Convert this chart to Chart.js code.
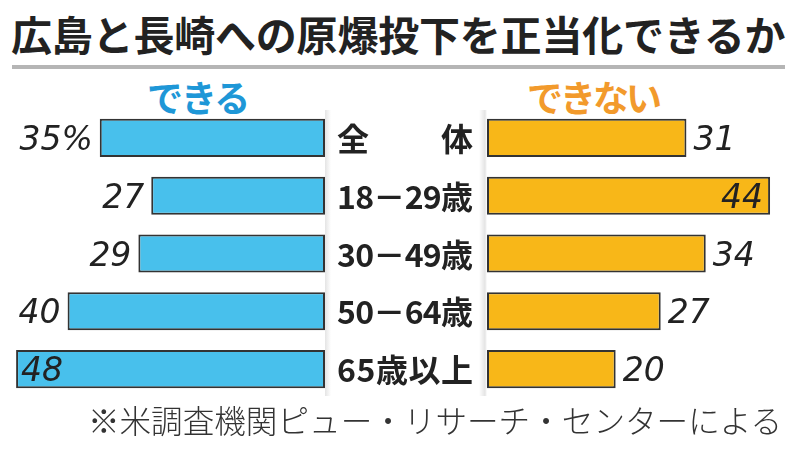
<!DOCTYPE html>
<html>
<head>
<meta charset="utf-8">
<script src="https://cdn.jsdelivr.net/npm/chart.js@4"></script>
<style>
  body { margin:0; background:#fff; }
  #wrap { position:relative; width:800px; height:453px; overflow:hidden; background:#fff; }
  #wrap canvas { position:absolute; left:0; top:0; }
  .txt { position:absolute; white-space:nowrap; font-family:"Noto Sans CJK JP", sans-serif; line-height:1; }
</style>
</head>
<body>
<div id="wrap">
  <div class="txt" style="left:11px; top:13px; font-size:41px; font-weight:700; color:#222; letter-spacing:-0.2px;">広島と長崎への原爆投下を正当化できるか</div>
  <div style="position:absolute; left:12px; top:65px; width:773px; height:4px; background:#b5b5b5;"></div>
  <div class="txt" style="left:147px; top:78px; font-size:36px; font-weight:700; color:#1e97d7; letter-spacing:-2px;">できる</div>
  <div class="txt" style="left:527px; top:78px; font-size:36px; font-weight:700; color:#f29a2c; letter-spacing:-3px;">できない</div>
  <div style="position:absolute; left:325px; top:110px; width:162px; height:286px; background:linear-gradient(to right,#e4e4e4 0px,#fff 6px,#fff 154px,#e4e4e4 160px,#fff 162px);"></div>
  <canvas id="left" width="800" height="453"></canvas>
  <canvas id="right" width="800" height="453"></canvas>
  <div class="txt" style="right:18px; top:404px; font-size:31.6px; font-weight:300; color:#333;">※米調査機関ピュー・リサーチ・センターによる</div>
</div>
<script>
// rows, top to bottom
var categories = ['全　体', '18－29歳', '30－49歳', '50－64歳', '65歳以上'];
var canValues = [35, 27, 29, 40, 48];     // できる
var cannotValues = [31, 44, 34, 27, 20];  // できない

var numFont = 'oblique 400 33px "DejaVu Sans", sans-serif';

// value labels at the end of each bar; goes inside when it would not fit
var valueLabels = {
  id: 'valueLabels',
  afterDatasetsDraw: function(chart) {
    var ctx = chart.ctx;
    var reversed = chart.options.scales.x.reverse;
    var meta = chart.getDatasetMeta(0);
    ctx.save();
    ctx.font = numFont;
    ctx.fillStyle = '#222';
    ctx.textBaseline = 'alphabetic';
    meta.data.forEach(function(bar, i) {
      var txt = String(chart.data.datasets[0].data[i]);
      if (reversed && i === 0) txt += '%';
      var w = ctx.measureText(txt).width;
      var y = bar.y + 12;
      if (reversed) {
        var x = bar.x - 7;
        if (x - w < 0) { ctx.textAlign = 'left'; ctx.fillText(txt, bar.x + 5, y); }
        else { ctx.textAlign = 'right'; ctx.fillText(txt, x, y); }
      } else {
        var x2 = bar.x + 7;
        if (x2 + w > chart.width) { ctx.textAlign = 'right'; ctx.fillText(txt, bar.x - 7, y); }
        else { ctx.textAlign = 'left'; ctx.fillText(txt, x2, y); }
      }
    });
    ctx.restore();
  }
};

// category labels in the middle column, spread to one common width
var centerLabels = {
  id: 'centerLabels',
  afterDraw: function(chart) {
    var ctx = chart.ctx;
    var yScale = chart.scales.y;
    var right = chart.chartArea.left - 14;
    var boxW = 136;
    ctx.save();
    ctx.font = '700 32px "Noto Sans CJK JP", sans-serif';
    ctx.fillStyle = '#222';
    ctx.textBaseline = 'middle';
    ctx.textAlign = 'left';
    chart.data.labels.forEach(function(lab, i) {
      var chars = Array.from(lab);
      var total = 0;
      var widths = chars.map(function(c) { var w = ctx.measureText(c).width; total += w; return w; });
      var gap = chars.length > 1 ? (boxW - total) / (chars.length - 1) : 0;
      var x = right - boxW;
      var y = yScale.getPixelForValue(i) + 1;
      chars.forEach(function(c, k) {
        ctx.fillText(c, x, y);
        x += widths[k] + gap;
      });
    });
    ctx.restore();
  }
};

function makeChart(id, values, color, reversed, xMax, pad) {
  return new Chart(document.getElementById(id), {
    type: 'bar',
    data: {
      labels: categories,
      datasets: [{
        data: values,
        backgroundColor: color,
        borderColor: '#333',
        borderWidth: 2,
        borderSkipped: false,
        barPercentage: 0.66,
        categoryPercentage: 1,
        clip: false
      }]
    },
    options: {
      indexAxis: 'y',
      responsive: false,
      animation: false,
      events: [],
      layout: { padding: pad },
      plugins: { legend: { display: false }, tooltip: { enabled: false } },
      scales: {
        x: { display: false, min: 0, max: xMax, reverse: reversed },
        y: { display: false }
      }
    },
    plugins: reversed ? [valueLabels] : [valueLabels, centerLabels]
  });
}

makeChart('left', canValues, '#48c0ec', true, 50.5, { top: 109, bottom: 55, left: 0, right: 475 });
makeChart('right', cannotValues, '#f8b718', false, 48.65, { top: 109, bottom: 55, left: 487, right: 0 });
</script>
</body>
</html>
